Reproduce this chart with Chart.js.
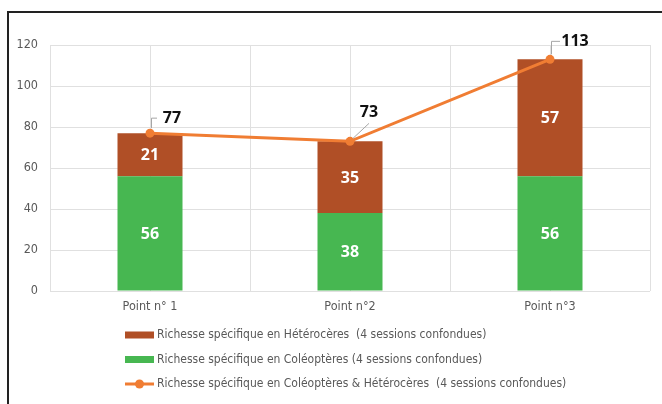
<!DOCTYPE html>
<html>
<head>
<meta charset="utf-8">
<script src="https://cdn.jsdelivr.net/npm/chart.js@4.4.1/dist/chart.umd.min.js"></script>
<style>
  html, body { margin: 0; padding: 0; background: #fff; overflow: hidden; width: 662px; height: 404px; }
  #frame { position: absolute; left: 7px; top: 11px; width: 700px; height: 500px; border-left: 2px solid #222; border-top: 2px solid #222; }
  #myChart { position: absolute; left: 0; top: 0; }
</style>
</head>
<body>
<div id="frame"></div>
<canvas id="myChart" width="662" height="404"></canvas>
<script>
// data
const categories = ['Point n° 1', 'Point n°2', 'Point n°3'];
const coleopteres = [56, 38, 56];
const heteroceres = [21, 35, 57];
const totals = [77, 73, 113];
const yMax = 120;
const yStep = 20;

const legendNames = [
  'Richesse spécifique en Hétérocères  (4 sessions confondues)',
  'Richesse spécifique en Coléoptères (4 sessions confondues)',
  'Richesse spécifique en Coléoptères & Hétérocères  (4 sessions confondues)',
];

const GREEN = '#47b751';
const BROWN = '#b04f26';
const ORANGE = '#f07d33';
const TEXT = '#595959';
const GRID = '#e0e0e0';
const FONT = '"DejaVu Sans Condensed", "Liberation Sans", sans-serif';
const BOLD = '"Open Sans", "Liberation Sans", sans-serif';

// where each total label sits relative to its point, and its leader line
const totalLabelOffsets = [
  { dx: 22, dy: -15, leader: 'elbow' },
  { dx: 19, dy: -29, leader: 'diag' },
  { dx: 25, dy: -18, leader: 'elbow' },
];

const valueLabels = {
  id: 'valueLabels',
  afterDatasetsDraw(chart) {
    const c = chart.ctx;
    c.save();
    c.textAlign = 'center';
    c.textBaseline = 'middle';
    // numbers inside the bars
    [0, 1].forEach(di => {
      const meta = chart.getDatasetMeta(di);
      c.fillStyle = '#fff';
      c.font = 'bold 16px ' + BOLD;
      meta.data.forEach((el, i) => {
        c.fillText(chart.data.datasets[di].data[i], el.x, (el.y + el.base) / 2 + 1);
      });
    });
    // totals above the line
    const lineMeta = chart.getDatasetMeta(2);
    lineMeta.data.forEach((pt, i) => {
      const o = totalLabelOffsets[i];
      c.strokeStyle = '#a6a6a6';
      c.lineWidth = 1;
      c.beginPath();
      if (o.leader === 'elbow') {
        c.moveTo(pt.x + 1.5, pt.y - 5);
        c.lineTo(pt.x + 1.5, pt.y + o.dy);
        c.lineTo(pt.x + o.dx - 15, pt.y + o.dy);
      } else {
        c.moveTo(pt.x + 3, pt.y - 3);
        c.lineTo(pt.x + o.dx, pt.y + o.dy + 11);
      }
      c.stroke();
      c.fillStyle = '#111';
      c.font = 'bold 16px ' + BOLD;
      c.fillText(totals[i], pt.x + o.dx, pt.y + o.dy);
    });
    c.restore();
  }
};

const bottomLegend = {
  id: 'bottomLegend',
  afterDraw(chart) {
    const c = chart.ctx;
    const left = 125;
    const top = chart.chartArea.bottom + 44;
    const rowGap = 24.5;
    c.save();
    c.font = '12px ' + FONT;
    c.fillStyle = TEXT;
    c.textBaseline = 'middle';
    c.textAlign = 'left';
    const rows = [
      { color: BROWN, kind: 'box' },
      { color: GREEN, kind: 'box' },
      { color: ORANGE, kind: 'line' },
    ];
    rows.forEach((r, i) => {
      const y = top + i * rowGap;
      if (r.kind === 'box') {
        c.fillStyle = r.color;
        c.fillRect(left, y - 3.5, 29, 7);
      } else {
        c.strokeStyle = r.color;
        c.lineWidth = 3;
        c.beginPath();
        c.moveTo(left, y);
        c.lineTo(left + 29, y);
        c.stroke();
        c.fillStyle = r.color;
        c.beginPath();
        c.arc(left + 14.5, y, 4.5, 0, Math.PI * 2);
        c.fill();
      }
      c.fillStyle = TEXT;
      c.fillText(legendNames[i], left + 32, y);
    });
    c.restore();
  }
};

const ctx = document.getElementById('myChart').getContext('2d');

let myChart = new Chart(ctx, {
  type: 'bar',
  data: {
    labels: categories,
    datasets: [
      {
        label: legendNames[1],
        data: coleopteres,
        backgroundColor: GREEN,
        categoryPercentage: 1,
        barPercentage: 0.325,
        order: 1,
      },
      {
        label: legendNames[0],
        data: heteroceres,
        backgroundColor: BROWN,
        categoryPercentage: 1,
        barPercentage: 0.325,
        order: 1,
      },
      {
        type: 'line',
        label: legendNames[2],
        data: totals,
        stack: 'total',
        borderColor: ORANGE,
        backgroundColor: ORANGE,
        borderWidth: 3,
        pointRadius: 4.5,
        pointBackgroundColor: ORANGE,
        pointBorderWidth: 0,
        tension: 0,
        order: 0,
      },
    ],
  },
  options: {
    responsive: false,
    animation: false,
    layout: { padding: { top: 45, right: 12, left: 0, bottom: 87 } },
    plugins: {
      legend: { display: false },
      tooltip: { enabled: false },
    },
    scales: {
      x: {
        stacked: true,
        grid: { color: GRID, offset: true, drawTicks: false },
        border: { display: false },
        ticks: { color: TEXT, font: { family: FONT, size: 12.5 }, padding: 8 },
        afterFit: s => { s.height = 26; },
      },
      x2: {
        type: 'category',
        position: 'bottom',
        labels: categories,
        offset: true,
        grid: { color: GRID, offset: false, drawTicks: false },
        border: { display: false },
        ticks: { display: false },
        afterFit: s => { s.height = 0; },
      },
      y: {
        stacked: true,
        min: 0,
        max: yMax,
        grid: { color: GRID, drawTicks: false },
        border: { display: false },
        ticks: { stepSize: yStep, color: TEXT, font: { family: FONT, size: 12.5 }, padding: 12 },
        afterFit: s => { s.width = 50; },
      },
    },
  },
  plugins: [valueLabels, bottomLegend],
});
</script>
</body>
</html>
